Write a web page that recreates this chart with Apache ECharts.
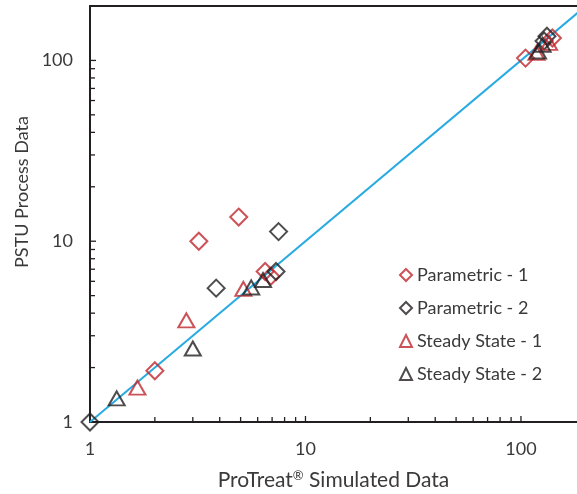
<!DOCTYPE html>
<html>
<head>
<meta charset="utf-8">
<script src="https://cdn.jsdelivr.net/npm/echarts@6/dist/echarts.min.js"></script>
<style>
  html, body { margin: 0; padding: 0; background: #fff; }
  #chart { width: 577px; height: 494px; }
</style>
</head>
<body>
<div id="chart"></div>
<script>
var parametric1 = [[3.2, 10], [4.9, 13.6], [2.0, 1.92], [6.5, 6.8], [6.9, 6.4], [105, 103], [140, 133]];
var parametric2 = [[1, 1], [3.85, 5.5], [7.5, 11.3], [7.3, 6.8], [128, 128], [132, 136]];
var steady1 = [[2.8, 3.65], [1.66, 1.55], [5.15, 5.45], [118, 110], [135, 125]];
var steady2 = [[1.33, 1.35], [3.0, 2.55], [5.6, 5.55], [6.35, 6.1], [120, 112], [126, 122]];
var parityLine = [[1, 1], [200, 200]];
var majorTickLabels = ['1', '10', '100'];
var majorTickValues = [10, 100];
var minorTickValues = [2, 3, 4, 5, 6, 7, 8, 9, 20, 30, 40, 50, 60, 70, 80, 90];

var red = '#c1272d';
var black = '#231f20';
var textColor = '#3a3a3a';
var font = 'Lato';

var myChart = echarts.init(document.getElementById('chart'));

// [x, y, which axis (0 = x, 1 = y), tick length]
var tickData = [];
for (var i = 0; i < minorTickValues.length; i++) {
    tickData.push([minorTickValues[i], 1, 0, 5]);
    tickData.push([1, minorTickValues[i], 1, 5]);
}
for (var j = 0; j < majorTickValues.length; j++) {
    tickData.push([majorTickValues[j], 1, 0, 6]);
    tickData.push([1, majorTickValues[j], 1, 6]);
}

function tickLabel(value) {
    var s = String(Math.round(value));
    return majorTickLabels.indexOf(s) >= 0 ? s : '';
}

function scatter(name, data, symbol, color, size) {
    return {
        name: name,
        type: 'scatter',
        data: data,
        symbol: symbol,
        symbolSize: size,
        z: 5,
        itemStyle: {
            color: 'rgba(0,0,0,0)',
            borderColor: color,
            borderWidth: 2
        }
    };
}

myChart.setOption({
    animation: false,
    textStyle: {fontFamily: font},
    grid: {left: 90, right: 0, top: 6, bottom: 72, containLabel: false, outerBoundsMode: 'none'},
    legend: {
        orient: 'vertical',
        left: 394,
        top: 261,
        itemWidth: 12,
        itemHeight: 12,
        itemGap: 15,
        data: ['Parametric - 1', 'Parametric - 2', 'Steady State - 1', 'Steady State - 2'],
        textStyle: {fontSize: 18, color: textColor, fontFamily: font}
    },
    xAxis: [{
        type: 'log',
        logBase: 10,
        min: 1,
        max: 182,
        name: 'ProTreat{sup|®} Simulated Data',
        nameLocation: 'middle',
        nameGap: 47,
        nameTextStyle: {
            fontSize: 21, color: textColor, fontFamily: font,
            rich: {sup: {fontSize: 13, color: textColor, fontFamily: font, verticalAlign: 'top', padding: [0, 0, 9, 0]}}
        },
        axisLine: {show: true, lineStyle: {color: black, width: 2}},
        axisTick: {show: false},
        axisLabel: {fontSize: 18, color: textColor, margin: 18, fontFamily: font, formatter: tickLabel},
        splitLine: {show: false}
    }, {
        type: 'log',
        min: 1,
        max: 182,
        position: 'top',
        axisLine: {show: true, lineStyle: {color: black, width: 2}},
        axisTick: {show: false},
        axisLabel: {show: false},
        splitLine: {show: false}
    }],
    yAxis: {
        type: 'log',
        logBase: 10,
        min: 1,
        max: 200,
        name: 'PSTU Process Data',
        nameLocation: 'middle',
        nameGap: 58,
        nameTextStyle: {fontSize: 18, color: textColor, fontFamily: font, padding: [0, 0, 0, 44]},
        axisLine: {show: true, lineStyle: {color: black, width: 2}},
        axisTick: {show: false},
        axisLabel: {fontSize: 18, color: textColor, margin: 17, fontFamily: font, formatter: tickLabel},
        splitLine: {show: false}
    },
    series: [
        {
            name: 'parity',
            type: 'line',
            data: parityLine,
            symbol: 'none',
            z: 2,
            lineStyle: {color: '#29abe2', width: 2}
        },
        {
            name: 'ticks',
            type: 'custom',
            data: tickData,
            z: 6,
            silent: true,
            renderItem: function (params, api) {
                var p = api.coord([api.value(0), api.value(1)]);
                var len = api.value(3);
                var shape = api.value(2) === 0
                    ? {x1: p[0], y1: p[1], x2: p[0], y2: p[1] - len}
                    : {x1: p[0], y1: p[1], x2: p[0] + len, y2: p[1]};
                return {type: 'line', shape: shape, style: {stroke: black, lineWidth: 1.3}};
            }
        },
        scatter('Parametric - 1', parametric1, 'diamond', red, 17),
        scatter('Parametric - 2', parametric2, 'diamond', black, 17),
        scatter('Steady State - 1', steady1, 'triangle', red, [16, 14]),
        scatter('Steady State - 2', steady2, 'triangle', black, [16, 14])
    ]
});
</script>
</body>
</html>
